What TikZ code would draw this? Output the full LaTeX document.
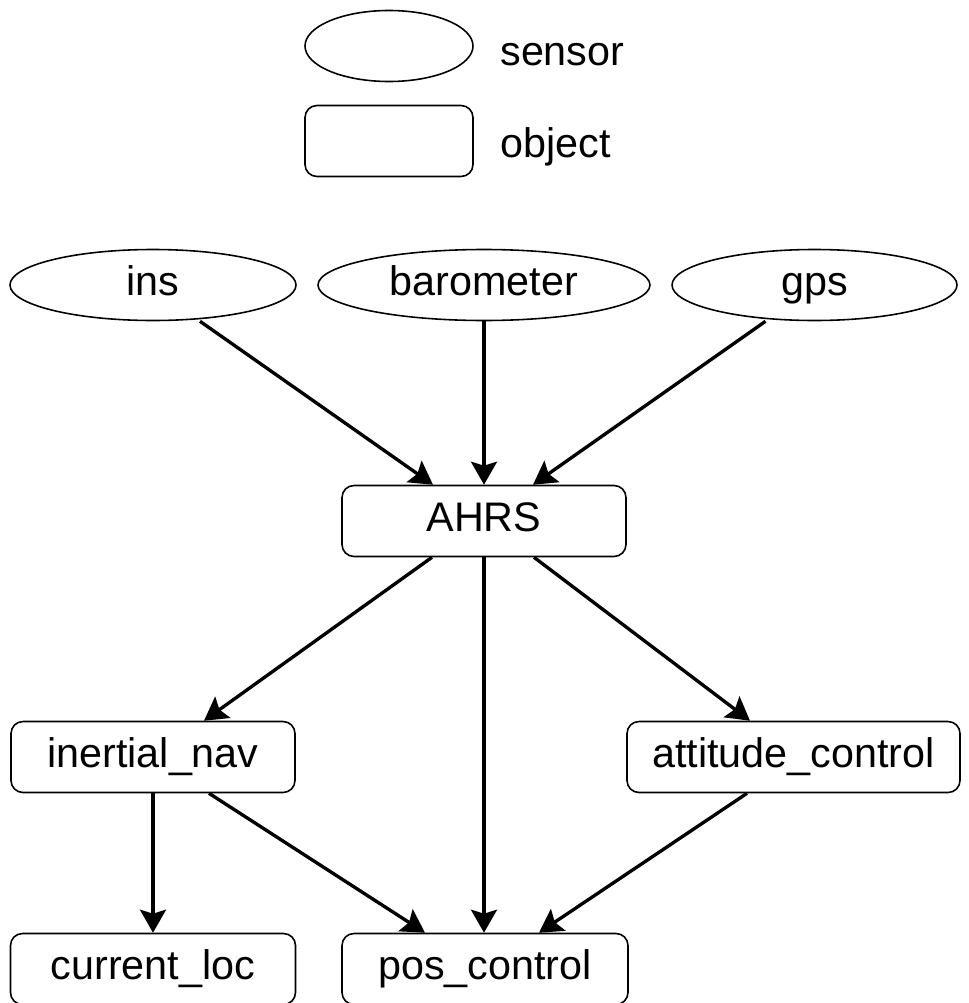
\documentclass[tikz,border=0pt]{standalone}
\usepackage{fontspec}
\setmainfont{Liberation Sans}
\usepackage{tikz}
\usetikzlibrary{arrows.meta, shapes.geometric}

\begin{document}
\begin{tikzpicture}[>={Stealth[length=0.46cm, width=0.52cm, inset=0.08cm]},
  font=\fontsize{23.5}{28}\selectfont,
  sensorbox/.style={draw, line width=0.9pt, ellipse, inner sep=0pt,
                    text height=16.9pt, text depth=4.9pt,
                    minimum width=#1, minimum height=1.42cm},
  objbox/.style={draw, line width=0.9pt, rectangle, rounded corners=0.24cm,
                 inner sep=0pt, text height=16.9pt, text depth=4.9pt,
                 minimum width=#1, minimum height=1.42cm},
  link/.style={->, line width=1.9pt}]
  \useasboundingbox (0,0) rectangle (19.38,-20.06);
  % legend
  \node[sensorbox=3.36cm] (legsensor) at (7.78,-0.92) {};
  \node[objbox=3.36cm] (legobject) at (7.78,-2.82) {};
  \node[anchor=base west, inner sep=0pt] (legsensortext) at (10.0,-1.30) {sensor};
  \node[anchor=base west, inner sep=0pt] (legobjecttext) at (10.0,-3.14) {object};
  % sensors
  \node[sensorbox=5.72cm] (ins) at (3.06,-5.70) {ins};
  \node[sensorbox=6.64cm] (baro) at (9.68,-5.70) {barometer};
  \node[sensorbox=5.70cm] (gps) at (16.29,-5.70) {gps};
  % objects
  \node[objbox=5.68cm] (ahrs) at (9.68,-10.42) {AHRS};
  \node[objbox=5.68cm] (inav) at (3.06,-15.14) {inertial\_nav};
  \node[objbox=6.66cm] (attc) at (15.87,-15.14) {attitude\_control};
  \node[objbox=5.70cm] (cloc) at (3.06,-19.38) {current\_loc};
  \node[objbox=5.72cm] (posc) at (9.70,-19.38) {pos\_control};
  % sensors into AHRS
  \draw[link] ([xshift=0.94cm]ins.south) -- ([xshift=-1.02cm]ahrs.north);
  \draw[link] (baro.south) -- (ahrs.north);
  \draw[link] ([xshift=-0.98cm]gps.south) -- ([xshift=0.98cm]ahrs.north);
  % AHRS out
  \draw[link] ([xshift=-1.04cm]ahrs.south) -- ([xshift=1.02cm]inav.north);
  \draw[link] (ahrs.south) -- ([xshift=-0.02cm]posc.north);
  \draw[link] ([xshift=1.0cm]ahrs.south) -- ([xshift=-0.87cm]attc.north);
  % lower row
  \draw[link] (inav.south) -- (cloc.north);
  \draw[link] ([xshift=1.12cm]inav.south) -- ([xshift=-1.2cm]posc.north);
  \draw[link] ([xshift=-0.93cm]attc.south) -- ([xshift=1.08cm]posc.north);
\end{tikzpicture}
\end{document}
